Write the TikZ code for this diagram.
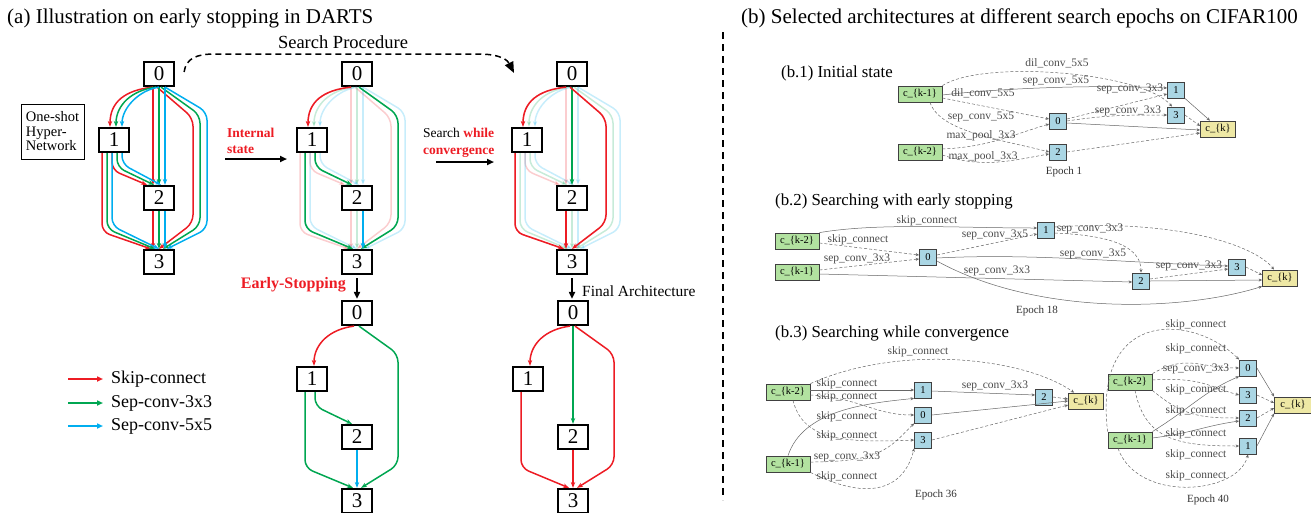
\documentclass[tikz,border=0pt]{standalone}
\usepackage{fontspec}
\setmainfont{Liberation Serif}
\usetikzlibrary{arrows.meta}

\definecolor{skipred}{RGB}{237,28,36}
\definecolor{sepgreen}{RGB}{0,166,81}
\definecolor{sepblue}{RGB}{0,174,239}
\definecolor{gvgreen}{RGB}{178,226,160}
\definecolor{gvblue}{RGB}{170,214,228}
\definecolor{gvyellow}{RGB}{238,232,165}

% one edge of a cell: #1 cell, #2 colour, #3 offset (-1,0,1)
\newcommand{\eZeroOne}[3]{\draw[op,color=#2] ([xshift={-3+3*(#3)}]#1-0.south) .. controls +({-24+4*(#3)},3) and +(0,{-22+3*(#3)}) .. ([xshift={2+6*(#3)}]#1-1.north);}
\newcommand{\eZeroTwo}[3]{\draw[op,color=#2] ([xshift={6*(#3)}]#1-0.south) -- ([xshift={6*(#3)}]#1-2.north);}
\newcommand{\eOneTwo}[3]{\draw[op,color=#2] ([xshift={3+5*(#3)}]#1-1.south) -- ([xshift={3+5*(#3)},yshift={-14+3*(#3)}]#1-1.south) -- ([xshift={-5+7*(#3)}]#1-2.north);}
\newcommand{\eZeroThree}[3]{\draw[op,color=#2] ([xshift={2+4*(#3)}]#1-0.south) -- ([xshift={41+7*(#3)},yshift={-28+3*(#3)}]#1-0.south) -- ([xshift={41+7*(#3)},yshift={23-3*(#3)}]#1-3.north) -- ([xshift={4+4*(#3)}]#1-3.north);}
\newcommand{\eOneThree}[3]{\draw[op,color=#2] ([xshift={-7+5*(#3)}]#1-1.south) -- ([xshift={-52+5*(#3)},yshift={20+3*(#3)}]#1-3.north) -- ([xshift={-4+4*(#3)}]#1-3.north);}
\newcommand{\eTwoThree}[3]{\draw[op,color=#2] ([xshift={6*(#3)}]#1-2.south) -- ([xshift={6*(#3)}]#1-3.north);}

\tikzset{
  cellnode/.style={draw, line width=2.2pt, minimum width=30pt, minimum height=24pt, inner sep=0pt, font=\fontsize{21}{21}\selectfont},
  op/.style={line width=1.5pt, rounded corners=8pt, -{Stealth[length=6pt,width=4.5pt]}},
  flow/.style={line width=1.8pt, -{Triangle[length=7pt,width=6pt]}},
  legarrow/.style={line width=2pt, -{Triangle[length=6pt,width=5pt]}},
  procline/.style={line width=1.5pt, dash pattern=on 6pt off 4pt, -{Triangle[length=11pt,width=9pt]}},
  divider/.style={line width=1.5pt, dash pattern=on 7pt off 5pt},
  bigtext/.style={font=\fontsize{18.5}{20}\selectfont, inner sep=0pt},
  titletext/.style={font=\fontsize{21}{22}\selectfont, inner sep=0pt, anchor=base west},
  subtext/.style={font=\fontsize{16.8}{18}\selectfont, inner sep=0pt, anchor=base west},
  gvin/.style={draw=black!75, fill=gvgreen, line width=0.8pt, minimum width=44pt, minimum height=16pt, inner sep=1pt, font=\fontsize{10.5}{10.5}\selectfont},
  gvop/.style={gvin, fill=gvblue, minimum width=17pt},
  gvout/.style={gvin, fill=gvyellow, minimum width=35pt},
  gvedge/.style={draw=black!60, line width=0.5pt, dash pattern=on 3pt off 2pt, -{Stealth[length=3.5pt,width=3pt]}},
  gvline/.style={gvedge, solid},
  gvlabel/.style={font=\fontsize{11.5}{11.5}\selectfont, text=black!70, inner sep=0pt},
  epoch/.style={font=\fontsize{11}{11}\selectfont, text=black!80, inner sep=0pt},
}

\begin{document}
\begin{tikzpicture}[x=1pt, y=-1pt]
    \useasboundingbox (0,0) rectangle (1311,512);

    \node[titletext] (titlea) at (7,23) {(a) Illustration on early stopping in DARTS};
    \node[titletext] (titleb) at (741,23) {(b) Selected architectures at different search epochs on CIFAR100};

    % the five cells
    \foreach \g/\x/\y in {a/159/74, b/357/74, c/572/74, d/357/313, e/573/313}{
        \node[cellnode] (\g-0) at (\x,\y) {0};
        \node[cellnode] (\g-1) at (\x-45,\y+66) {1};
        \node[cellnode] (\g-2) at (\x,\y+124) {2};
        \node[cellnode] (\g-3) at (\x,\y+188) {3};
    }

    % one-shot network: all operations
    \foreach \c/\i in {skipred/-1, sepgreen/0, sepblue/1}{
        \eZeroOne{a}{\c}{\i}
        \eZeroTwo{a}{\c}{\i}
        \eOneTwo{a}{\c}{\i}
        \eZeroThree{a}{\c}{\i}
        \eOneThree{a}{\c}{\i}
        \eTwoThree{a}{\c}{\i}
    }
    \begin{scope}[opacity=0.22]
        \foreach \g in {b,c}{
            \foreach \c/\i in {skipred/-1, sepgreen/0, sepblue/1}{
                \eZeroOne{\g}{\c}{\i}
                \eZeroTwo{\g}{\c}{\i}
                \eOneTwo{\g}{\c}{\i}
                \eZeroThree{\g}{\c}{\i}
                \eOneThree{\g}{\c}{\i}
                \eTwoThree{\g}{\c}{\i}
            }
        }
    \end{scope}
    % strongest operations
    \eZeroOne{b}{skipred}{-1}
    \eOneTwo{b}{sepgreen}{0}
    \eOneThree{b}{sepgreen}{0}
    \eZeroThree{b}{sepgreen}{0}
    \eTwoThree{b}{sepblue}{1}
    \eZeroOne{c}{skipred}{-1}
    \eZeroTwo{c}{sepgreen}{0}
    \eZeroThree{c}{skipred}{-1}
    \eOneThree{c}{skipred}{-1}
    \eTwoThree{c}{skipred}{-1}
    % derived cells
    \eZeroOne{d}{skipred}{0}
    \eOneTwo{d}{sepgreen}{0}
    \eOneThree{d}{sepgreen}{0}
    \eZeroThree{d}{sepgreen}{0}
    \eTwoThree{d}{sepblue}{0}
    \eZeroOne{e}{skipred}{0}
    \eZeroTwo{e}{sepgreen}{0}
    \eZeroThree{e}{skipred}{0}
    \eOneThree{e}{skipred}{0}
    \eTwoThree{e}{skipred}{0}

    \node[draw, line width=0.8pt, minimum width=63pt, minimum height=55pt, align=left, font=\fontsize{14.5}{14.5}\selectfont] (hyper) at (52.5,131.5) {One-shot\\Hyper-\\Network};

    % legend
    \foreach \c/\t/\y in {skipred/Skip-connect/379, sepgreen/Sep-conv-3x3/403, sepblue/Sep-conv-5x5/426}{
        \coordinate (leg\y) at (68,\y);
        \node[anchor=west, font=\fontsize{18}{18}\selectfont, inner sep=0pt] (legtext\y) at (111,\y) {\t};
        \draw[legarrow, color=\c] (leg\y) -- ([xshift=-8pt]legtext\y.west);
    }

    % search procedure
    \node[bigtext, anchor=base] (procname) at (343,48) {Search Procedure};
    \coordinate (procend) at (514,73);
    \draw[procline] ([xshift=9pt,yshift=2pt]a-0.east) .. controls +(2,-14) and +(-18,0) .. (215,54) -- (478,54) .. controls +(24,0) and +(-6,-12) .. (procend);

    \node[anchor=west, align=left, text=skipred, font=\bfseries\fontsize{13.5}{15.5}\selectfont, inner sep=0pt] (internal) at (227,141) {Internal\\state};
    \coordinate (isfrom) at (225,159);
    \coordinate (isto) at (287,159);
    \draw[flow] (isfrom) -- (isto);

    \node[anchor=west, align=left, font=\fontsize{13.5}{16.5}\selectfont, inner sep=0pt] (whileconv) at (423,143) {Search \textcolor{skipred}{\textbf{while}}\\\textcolor{skipred}{\textbf{convergence}}};
    \coordinate (wcfrom) at (436,162);
    \coordinate (wcto) at (494,162);
    \draw[flow] (wcfrom) -- (wcto);

    \draw[flow, shorten <=3pt, shorten >=1pt] (b-3.south) -- (d-0.north);
    \node[anchor=east, text=skipred, font=\bfseries\fontsize{16}{16}\selectfont, inner sep=0pt] (earlystop) at (346,285) {Early-Stopping};
    \draw[flow, shorten <=3pt, shorten >=1pt] (c-3.south) -- (c-3.south |- e-0.north);
    \node[anchor=west, font=\fontsize{15.5}{16}\selectfont, inner sep=0pt] (finalarch) at (582,291) {Final Architecture};

    \coordinate (divtop) at (723,32);
    \coordinate (divbot) at (723,500);
    \draw[divider] (divtop) -- (divbot);

    % (b.1)
    \node[subtext] (subb1) at (781,77) {(b.1) Initial state};
    \node[gvin] (ba-prev) at (920,94) {c\_\{k-1\}};
    \node[gvin] (ba-pprev) at (920,152) {c\_\{k-2\}};
    \node[gvop] (ba-0) at (1058,121) {0};
    \node[gvop] (ba-2) at (1058,152) {2};
    \node[gvop] (ba-1) at (1176,90) {1};
    \node[gvop] (ba-3) at (1176,115) {3};
    \node[gvout] (ba-out) at (1218,129) {c\_\{k\}};
    \draw[gvedge] (ba-prev.north east) .. controls +(40,-26) and +(-30,-35) .. ([xshift=-4pt]ba-3.north);
    \draw[gvline] ([yshift=-1pt]ba-prev.east) .. controls +(70,-8) and +(-60,-3) .. ([yshift=2pt]ba-1.west);
    \draw[gvedge] ([yshift=-4pt]ba-prev.east) -- ([yshift=2pt]ba-0.west);
    \draw[gvedge] ([xshift=10pt]ba-prev.south) .. controls +(10,30) and +(-45,-12) .. (ba-2.west);
    \draw[gvedge] ([yshift=3pt]ba-pprev.east) .. controls +(45,-2) and +(-40,12) .. ([yshift=-3pt]ba-0.west);
    \draw[gvedge] ([yshift=-3pt]ba-pprev.east) .. controls +(40,14) and +(-35,6) .. ([yshift=-2pt]ba-2.west);
    \draw[gvedge] ([yshift=2pt]ba-0.east) -- ([yshift=-4pt]ba-1.west);
    \draw[gvedge] (ba-0.east) .. controls +(40,-6) and +(-40,0) .. (ba-3.west);
    \draw[gvline] ([yshift=-2pt]ba-0.east) -- ([yshift=-1pt]ba-out.west);
    \draw[gvline] (ba-1.south east) -- ([xshift=-8pt]ba-out.north);
    \draw[gvedge] (ba-3.east) -- ([yshift=3pt]ba-out.west);
    \draw[gvedge] (ba-2.east) -- ([yshift=-4pt]ba-out.west);
    \node[gvlabel] (ba-l1) at (1057,63) {dil\_conv\_5x5};
    \node[gvlabel] (ba-l2) at (1056,81) {sep\_conv\_5x5};
    \node[gvlabel] (ba-l3) at (983,93) {dil\_conv\_5x5};
    \node[gvlabel] (ba-l4) at (981,117) {sep\_conv\_5x5};
    \node[gvlabel] (ba-l5) at (981,136) {max\_pool\_3x3};
    \node[gvlabel] (ba-l6) at (983,157) {max\_pool\_3x3};
    \node[gvlabel] (ba-l7) at (1130,89) {sep\_conv\_3x3};
    \node[gvlabel] (ba-l8) at (1128,111) {sep\_conv\_3x3};
    \node[epoch] (ba-epoch) at (1064,172) {Epoch 1};

    % (b.2)
    \node[subtext] (subb2) at (775,205) {(b.2) Searching with early stopping};
    \node[gvin] (bb-pprev) at (797,241) {c\_\{k-2\}};
    \node[gvin] (bb-prev) at (797,272) {c\_\{k-1\}};
    \node[gvop] (bb-0) at (928,257) {0};
    \node[gvop] (bb-1) at (1046,230) {1};
    \node[gvop] (bb-2) at (1141,281) {2};
    \node[gvop] (bb-3) at (1237,267) {3};
    \node[gvout] (bb-out) at (1280,278) {c\_\{k\}};
    \draw[gvline] (bb-pprev.north east) .. controls +(60,-10) and +(-80,0) .. ([yshift=2pt]bb-1.west);
    \draw[gvedge] ([yshift=-2pt]bb-pprev.east) -- ([yshift=2pt]bb-0.west);
    \draw[gvedge] ([yshift=2pt]bb-prev.east) -- ([yshift=-2pt]bb-0.west);
    \draw[gvedge] ([yshift=2pt]bb-0.east) -- ([yshift=-4pt]bb-1.west);
    \draw[gvedge] ([yshift=-3pt]bb-1.east) .. controls +(45,2) and +(0,-30) .. (bb-2.north);
    \draw[gvedge] ([yshift=3pt]bb-1.east) .. controls +(120,-8) and +(-20,-25) .. ([xshift=-6pt]bb-out.north);
    \draw[gvline] ([yshift=-1pt]bb-0.east) .. controls +(100,-5) and +(-100,-3) .. ([yshift=1pt]bb-3.west);
    \draw[gvline] ([yshift=-2pt]bb-prev.east) -- ([yshift=-1pt]bb-2.west);
    \draw[gvedge] ([yshift=2pt]bb-2.east) -- ([yshift=-2pt]bb-3.west);
    \draw[gvedge] (bb-3.east) -- ([yshift=3pt]bb-out.west);
    \draw[gvline] (bb-2.east) -- ([yshift=-2pt]bb-out.west);
    \draw[gvline] ([yshift=-4pt]bb-0.east) .. controls +(100,55) and +(-80,25) .. (bb-out.south west);
    \node[gvlabel] (bb-l1) at (927,221) {skip\_connect};
    \node[gvlabel] (bb-l2) at (858,240) {skip\_connect};
    \node[gvlabel] (bb-l3) at (857,259) {sep\_conv\_3x3};
    \node[gvlabel] (bb-l4) at (995,235) {sep\_conv\_3x5};
    \node[gvlabel] (bb-l5) at (1090,229) {sep\_conv\_3x3};
    \node[gvlabel] (bb-l6) at (1093,254) {sep\_conv\_3x5};
    \node[gvlabel] (bb-l7) at (997,271) {sep\_conv\_3x3};
    \node[gvlabel] (bb-l8) at (1189,266) {sep\_conv\_3x3};
    \node[epoch] (bb-epoch) at (1037,311) {Epoch 18};

    % (b.3)
    \node[subtext] (subb3) at (775,337) {(b.3) Searching while convergence};
    \node[gvin] (bc-pprev) at (788,392) {c\_\{k-2\}};
    \node[gvin] (bc-prev) at (788,464) {c\_\{k-1\}};
    \node[gvop] (bc-1) at (923,390) {1};
    \node[gvop] (bc-0) at (923,415) {0};
    \node[gvop] (bc-3) at (923,440) {3};
    \node[gvop] (bc-2) at (1044,397) {2};
    \node[gvout] (bc-out) at (1086,401) {c\_\{k\}};
    \draw[gvedge] (bc-pprev.north east) .. controls +(90,-40) and +(-50,-35) .. ([xshift=6pt]bc-out.north west);
    \draw[gvline] ([yshift=2pt]bc-pprev.east) -- (bc-1.west);
    \draw[gvedge] ([yshift=-3pt]bc-pprev.east) .. controls +(50,3) and +(-40,0) .. (bc-0.west);
    \draw[gvline] (bc-prev.north) .. controls +(15,-45) and +(-50,5) .. (bc-1.south west);
    \draw[gvedge] ([xshift=5pt]bc-pprev.south) .. controls +(10,40) and +(-70,3) .. (bc-3.west);
    \draw[gvedge] ([yshift=2pt]bc-prev.east) .. controls +(70,0) and +(-25,25) .. (bc-0.south west);
    \draw[gvedge] (bc-prev.south east) .. controls +(60,30) and +(-10,40) .. (bc-3.south west);
    \draw[gvline] ([yshift=-1pt]bc-1.east) -- ([yshift=2pt]bc-2.west);
    \draw[gvedge] (bc-2.east) -- ([yshift=2pt]bc-out.west);
    \draw[gvline] (bc-0.east) -- (bc-out.west);
    \draw[gvedge] (bc-3.east) -- ([yshift=-4pt]bc-out.west);
    \node[gvlabel] (bc-l1) at (918,352) {skip\_connect};
    \node[gvlabel] (bc-l2) at (847,384) {skip\_connect};
    \node[gvlabel] (bc-l3) at (847,397) {skip\_connect};
    \node[gvlabel] (bc-l4) at (847,417) {skip\_connect};
    \node[gvlabel] (bc-l5) at (847,436) {skip\_connect};
    \node[gvlabel] (bc-l6) at (847,457) {sep\_conv\_3x3};
    \node[gvlabel] (bc-l7) at (847,477) {skip\_connect};
    \node[gvlabel] (bc-l8) at (995,386) {sep\_conv\_3x3};
    \node[epoch] (bc-epoch) at (936,495) {Epoch 36};

    \node[gvin] (bd-pprev) at (1130,382) {c\_\{k-2\}};
    \node[gvin] (bd-prev) at (1130,440) {c\_\{k-1\}};
    \node[gvop] (bd-0) at (1248,368) {0};
    \node[gvop] (bd-3) at (1248,395) {3};
    \node[gvop] (bd-2) at (1248,418) {2};
    \node[gvop] (bd-1) at (1248,446) {1};
    \node[gvout, minimum width=37pt] (bd-out) at (1293,405) {c\_\{k\}};
    \draw[gvedge] (bd-prev.north west) .. controls +(-15,-125) and +(-45,-45) .. (bd-0.north west);
    \draw[gvedge] (bd-pprev.north east) .. controls +(35,-20) and +(-40,0) .. (bd-0.west);
    \draw[gvedge] ([yshift=2pt]bd-pprev.east) .. controls +(50,-3) and +(-30,-8) .. (bd-3.west);
    \draw[gvline] (bd-prev.north east) .. controls +(40,-25) and +(-35,15) .. (bd-0.south west);
    \draw[gvedge] (bd-pprev.south east) .. controls +(30,25) and +(-40,0) .. (bd-2.west);
    \draw[gvline] ([yshift=2pt]bd-prev.east) .. controls +(40,-5) and +(-35,5) .. ([yshift=-3pt]bd-2.west);
    \draw[gvedge] ([xshift=5pt]bd-pprev.south) .. controls +(10,50) and +(-60,0) .. (bd-1.west);
    \draw[gvedge] ([xshift=-12pt]bd-prev.south) .. controls +(20,55) and +(-10,40) .. (bd-1.south);
    \draw[gvline] (bd-0.east) -- (bd-out.north west);
    \draw[gvedge] (bd-3.east) -- ([yshift=2pt]bd-out.west);
    \draw[gvedge] (bd-2.east) -- ([yshift=-3pt]bd-out.west);
    \draw[gvline] (bd-1.east) -- (bd-out.south west);
    \node[gvlabel] (bd-l1) at (1196,325) {skip\_connect};
    \node[gvlabel] (bd-l2) at (1196,349) {skip\_connect};
    \node[gvlabel] (bd-l3) at (1196,369) {sep\_conv\_3x3};
    \node[gvlabel] (bd-l4) at (1196,390) {skip\_connect};
    \node[gvlabel] (bd-l5) at (1196,411) {skip\_connect};
    \node[gvlabel] (bd-l6) at (1196,434) {skip\_connect};
    \node[gvlabel] (bd-l7) at (1196,455) {skip\_connect};
    \node[gvlabel] (bd-l8) at (1196,476) {skip\_connect};
    \node[epoch] (bd-epoch) at (1208,500) {Epoch 40};
\end{tikzpicture}
\end{document}
